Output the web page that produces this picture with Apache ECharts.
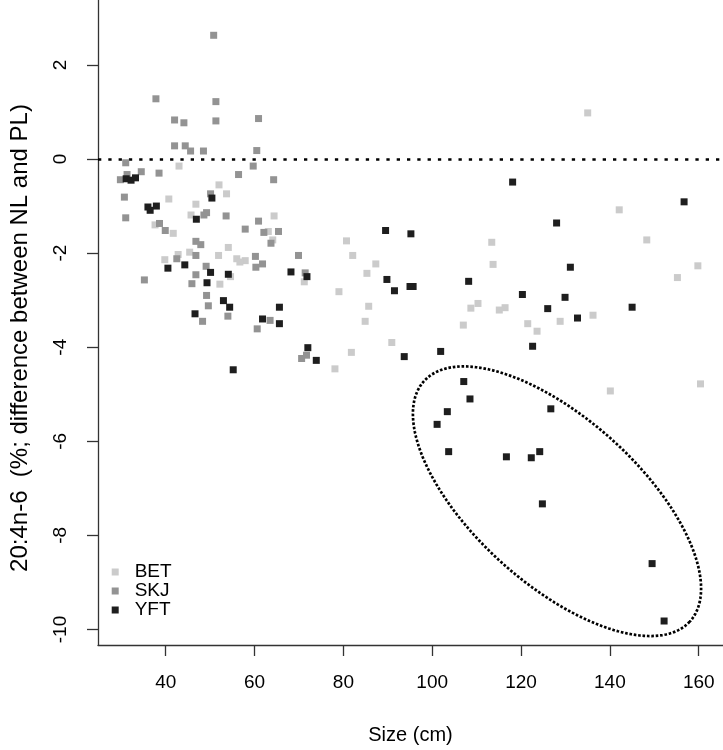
<!DOCTYPE html>
<html>
<head>
<meta charset="utf-8">
<script src="https://cdn.jsdelivr.net/npm/echarts@6/dist/echarts.min.js"></script>
<style>
html,body{margin:0;padding:0;background:#ffffff;}
#chart{width:723px;height:750px;}
</style>
</head>
<body>
<div id="chart"></div>
<script>
// ---------- data ----------
const seriesNames = ['BET', 'SKJ', 'YFT'];

const betData = [
  [43.0,-0.15],[52.0,-0.55],[53.7,-0.74],[40.7,-0.85],[46.8,-0.96],[45.7,-1.19],
  [64.4,-1.21],[63.1,-1.54],[64.1,-1.72],[37.6,-1.40],[41.7,-1.58],[45.4,-1.98],
  [42.8,-2.03],[39.8,-2.14],[54.1,-1.88],[51.9,-2.05],[56.0,-2.12],[57.9,-2.16],
  [56.7,-2.19],[52.2,-2.66],[54.6,-2.50],[71.2,-2.61],[80.7,-1.74],[82.1,-2.05],
  [87.3,-2.23],[85.3,-2.43],[79.0,-2.82],[85.7,-3.13],[84.9,-3.45],[90.9,-3.90],
  [81.8,-4.11],[78.1,-4.46],[113.4,-1.77],[113.7,-2.24],[110.3,-3.07],[108.7,-3.17],
  [107.0,-3.53],[115.1,-3.21],[116.4,-3.16],[135.0,0.98],[142.1,-1.08],[148.3,-1.72],
  [159.8,-2.27],[155.2,-2.52],[121.5,-3.50],[123.6,-3.66],[128.8,-3.45],[136.2,-3.32],
  [160.4,-4.78],[140.1,-4.93]
];

const skjData = [
  [50.8,2.63],[37.8,1.28],[51.3,1.22],[42.0,0.83],[44.1,0.77],[51.3,0.81],
  [60.9,0.86],[42.0,0.28],[44.4,0.28],[45.6,0.17],[48.5,0.17],[60.5,0.18],
  [31.0,-0.08],[34.5,-0.27],[38.5,-0.30],[31.3,-0.33],[56.4,-0.33],[59.7,-0.15],
  [29.8,-0.44],[64.3,-0.44],[50.1,-0.74],[30.7,-0.81],[31.0,-1.25],[48.6,-1.19],
  [49.2,-1.14],[53.6,-1.21],[60.9,-1.32],[57.9,-1.49],[62.1,-1.56],[65.4,-1.54],
  [63.7,-1.79],[38.6,-1.37],[39.9,-1.52],[46.8,-1.75],[47.9,-1.82],[46.8,-2.05],
  [42.5,-2.12],[60.2,-2.07],[61.8,-2.23],[60.3,-2.30],[49.1,-2.28],[46.8,-2.46],
  [35.2,-2.57],[45.9,-2.65],[49.2,-2.90],[49.6,-3.12],[54.0,-3.34],[48.3,-3.45],
  [69.9,-2.05],[71.4,-2.42],[63.5,-3.43],[60.6,-3.61],[70.6,-4.24],[71.7,-4.17]
];

const yftData = [
  [31.1,-0.42],[32.2,-0.45],[33.2,-0.40],[50.4,-0.83],[36.0,-1.02],[37.9,-1.00],
  [36.5,-1.09],[46.9,-1.28],[40.5,-2.32],[44.3,-2.25],[50.1,-2.41],[54.1,-2.45],
  [49.3,-2.63],[53.0,-3.01],[54.4,-3.15],[46.6,-3.29],[55.2,-4.48],[68.2,-2.40],
  [71.8,-2.50],[65.6,-3.15],[61.8,-3.40],[65.6,-3.50],[72.0,-4.01],[73.9,-4.28],
  [89.5,-1.52],[95.2,-1.59],[89.8,-2.56],[91.5,-2.80],[95.0,-2.71],[95.7,-2.71],
  [93.7,-4.20],[101.9,-4.09],[108.2,-2.60],[118.1,-0.49],[156.7,-0.91],[128.0,-1.36],
  [131.1,-2.30],[120.3,-2.88],[129.9,-2.94],[126.0,-3.18],[145.0,-3.15],[132.7,-3.38],
  [122.6,-3.98],[107.1,-4.73],[108.5,-5.10],[103.4,-5.37],[101.1,-5.64],[103.7,-6.22],
  [116.7,-6.33],[122.3,-6.35],[124.2,-6.22],[126.7,-5.31],[124.8,-7.33],[149.5,-8.60],
  [152.2,-9.82]
];

const xTicks = [40, 60, 80, 100, 120, 140, 160];
const yTicks = [-10, -8, -6, -4, -2, 0, 2];
const xRange = [24.76, 165.46];
const yRange = [-10.33, 3.38];
const zeroLine = 0;

const xTitle = 'Size (cm)';
const yTitle = '20:4n-6  (%; difference between NL and PL)';

// dotted ellipse annotation (centre + two conjugate semi-axis vectors, data units)
const ellipseCenter = [128.09, -7.274];
const ellipseAxisU = [29.88, -2.56];
const ellipseAxisV = [-12.63, -1.288];
const ellipseSteps = 360;

// ---------- chart ----------
const colors = {BET: '#cbcbcb', SKJ: '#939393', YFT: '#1e1e1e'};
const FONT = '"Liberation Sans", Arial, sans-serif';

const ellipsePts = [];
for (let i = 0; i <= ellipseSteps; i++) {
  const t = 2 * Math.PI * i / ellipseSteps;
  ellipsePts.push([
    ellipseCenter[0] + ellipseAxisU[0] * Math.cos(t) + ellipseAxisV[0] * Math.sin(t),
    ellipseCenter[1] + ellipseAxisU[1] * Math.cos(t) + ellipseAxisV[1] * Math.sin(t)
  ]);
}

const dataBySeries = {BET: betData, SKJ: skjData, YFT: yftData};
const axisColor = '#333333';

const scatterSeries = seriesNames.map((name, i) => ({
  name: name,
  type: 'scatter',
  data: dataBySeries[name],
  symbol: 'rect',
  symbolSize: 7,
  itemStyle: {color: colors[name], opacity: 1},
  z: 3 + i,
  silent: true
}));

scatterSeries[0].markLine = {
  silent: true,
  symbol: ['none', 'none'],
  label: {show: false},
  lineStyle: {color: '#000', width: 2.7, type: [3.3, 7], opacity: 1},
  data: [{yAxis: zeroLine}],
  z: 2
};

const option = {
  animation: false,
  backgroundColor: '#ffffff',
  textStyle: {fontFamily: FONT},
  grid: {left: 98, right: -2, top: 0, bottom: 99, containLabel: false},
  legend: {
    data: seriesNames,
    orient: 'vertical',
    left: 111.7,
    top: 562.5,
    padding: 0,
    itemGap: 0,
    itemWidth: 7,
    itemHeight: 7,
    icon: 'rect',
    selectedMode: false,
    textStyle: {fontSize: 19, color: '#000', fontFamily: FONT, padding: [6, 0, 0, 11]}
  },
  xAxis: {
    type: 'value',
    min: xRange[0],
    max: xRange[1],
    name: xTitle,
    nameLocation: 'middle',
    nameGap: 80,
    nameTextStyle: {fontSize: 20, color: '#000', fontFamily: FONT},
    axisLine: {show: true, onZero: false, lineStyle: {color: axisColor, width: 1.3}},
    axisTick: {show: true, length: 11, customValues: xTicks, lineStyle: {color: axisColor, width: 1.3}},
    axisLabel: {customValues: xTicks, fontSize: 19, color: '#000', margin: 28, fontFamily: FONT},
    splitLine: {show: false}
  },
  yAxis: {
    type: 'value',
    min: yRange[0],
    max: yRange[1],
    name: yTitle,
    nameLocation: 'middle',
    nameGap: 66,
    nameTextStyle: {fontSize: 24, color: '#000', fontFamily: FONT, padding: [0, 31, 0, 0]},
    axisLine: {show: true, onZero: false, lineStyle: {color: axisColor, width: 1.3}},
    axisTick: {show: true, length: 11, customValues: yTicks, lineStyle: {color: axisColor, width: 1.3}},
    axisLabel: {customValues: yTicks, fontSize: 19, color: '#000', margin: 28, rotate: 90, fontFamily: FONT},
    splitLine: {show: false}
  },
  series: scatterSeries.concat([{
    name: 'ellipse',
    type: 'line',
    data: ellipsePts,
    showSymbol: false,
    symbol: 'none',
    smooth: false,
    silent: true,
    lineStyle: {color: '#000', width: 2.7, type: [2.6, 1.8]},
    z: 10
  }])
};

const chart = echarts.init(document.getElementById('chart'), null, {renderer: 'canvas'});
chart.setOption(option);
</script>
</body>
</html>
